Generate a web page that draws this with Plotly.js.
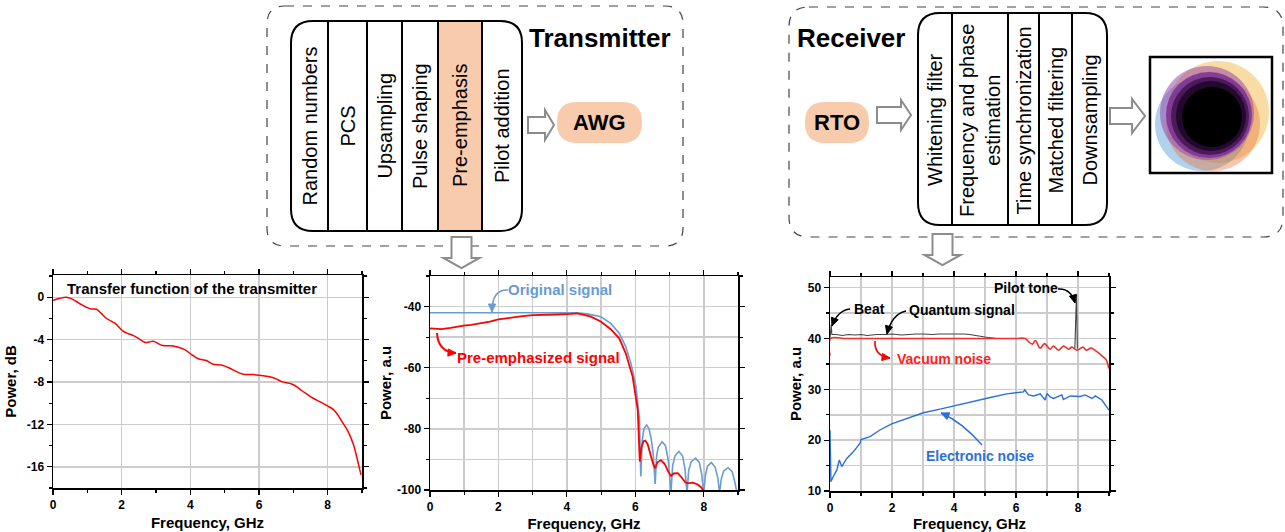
<!DOCTYPE html>
<html><head><meta charset="utf-8">
<script src="https://cdn.plot.ly/plotly-3.0.1.min.js"></script>
<style>html,body{margin:0;padding:0;background:#fff}#chart{width:1285px;height:532px}</style>
</head><body><div id="chart"></div>
<script>
// ---------- DATA ----------
// Panel 1: transfer function of the transmitter
const txFreq = [0,0.2,0.39,0.55,0.68,0.83,0.97,1.1,1.26,1.4,1.55,1.8,2.04,2.2,2.33,2.5,2.67,2.8,2.92,3.05,3.2,3.5,3.84,4.03,4.23,4.47,4.66,4.9,5.15,5.3,5.54,5.83,6.12,6.37,6.5,6.66,6.95,7.1,7.24,7.4,7.58,7.8,8.02,8.15,8.26,8.45,8.6,8.75,8.9,8.97];
const txPower = [-0.31,-0.1,0.0,-0.15,-0.4,-0.7,-0.94,-1.1,-1.13,-1.5,-1.98,-2.45,-3.2,-3.45,-3.6,-3.9,-4.25,-4.22,-4.15,-4.35,-4.56,-4.6,-4.94,-5.4,-5.8,-5.97,-6.32,-6.4,-6.7,-6.95,-7.26,-7.3,-7.4,-7.55,-7.7,-7.96,-8.18,-8.45,-8.8,-9.15,-9.53,-9.9,-10.3,-10.55,-10.94,-11.9,-12.7,-13.9,-15.8,-16.76];

// Panel 2: original and pre-emphasized signal spectra
const origFreq = [0,0.5,1,1.5,2,2.5,3,3.5,4,4.3,4.6,4.99,5.28,5.53,5.72,5.87,6.02,6.12,6.16,6.2,6.25,6.33,6.4,6.46,6.52,6.58,6.62,6.67,6.78,6.88,6.96,7.04,7.09,7.16,7.27,7.38,7.45,7.51,7.56,7.63,7.76,7.87,7.94,8.0,8.05,8.11,8.22,8.33,8.41,8.46,8.51,8.58,8.71,8.83,8.91,8.97];
const origPower = [-42,-42,-42,-42,-41.9,-42,-42,-41.9,-42,-42,-42.4,-43.3,-45.5,-48.7,-53.1,-58.5,-66.2,-77,-95.6,-84,-80,-78.7,-80,-83,-88,-98,-89,-86,-84.2,-85.5,-90,-101,-92,-88.8,-87.4,-88.8,-93,-101,-93.5,-90.8,-89.6,-91,-95,-101,-95,-92.2,-91,-92.5,-96,-101,-96.5,-93.8,-92.7,-94,-97.5,-101];
const preFreq = [0,0.15,0.34,0.6,0.98,1.2,1.47,1.75,2.0,2.3,2.64,3.0,3.33,3.7,4.11,4.3,4.5,4.7,4.99,5.28,5.53,5.72,5.92,6.07,6.13,6.18,6.24,6.29,6.36,6.45,6.52,6.58,6.64,6.75,6.86,6.96,7.04,7.12,7.24,7.36,7.46,7.53,7.68,7.82,7.92,8.02];
const prePower = [-47.1,-47.3,-47.4,-47,-46.2,-46,-45.5,-44.9,-44.2,-43.7,-43.2,-42.8,-42.6,-42.6,-42.4,-42.2,-42.7,-43.3,-44.9,-47.4,-50.4,-55.3,-62.9,-73.8,-90.7,-86,-84,-83.8,-85,-89,-91.5,-92.9,-91,-90.2,-91.5,-94,-95.4,-94.6,-94.5,-96,-97.5,-97.8,-97.6,-98.2,-99.1,-100.6];

// Panel 3: receiver spectra
const quantFreq = [0,0.02,0.04,0.06,0.2,0.4,0.6,0.8,1.0,1.2,1.5,1.8,2.0,2.3,2.5,2.8,3.0,3.3,3.5,3.8,4.0,4.3,4.5,4.84,5.0,5.38,5.6,6.2,null,7.9,7.93,7.95,7.98];
const quantPower = [40.0,42.7,42.7,40.8,40.8,40.6,40.8,40.7,40.8,40.6,40.8,40.8,40.9,40.7,40.8,40.9,40.9,40.8,40.9,40.9,41.0,40.9,40.8,40.4,40.3,40.0,40.0,40.0,null,38.1,48.6,48.6,38.0];
const vacFreq = [0,0.02,0.5,1,2,3,4,5,6,6.3,6.4,6.53,6.62,6.78,6.92,7.1,7.21,7.37,7.53,7.7,7.8,7.97,8.16,8.27,8.42,8.61,8.77,8.91,8.99];
const vacPower = [36.6,40.0,40.0,40.0,40.0,40.0,40.0,40.0,40.0,40.0,39.4,38.9,39.6,38.1,39.0,37.9,38.5,37.7,38.5,37.9,38.3,37.7,38.3,37.7,38.1,37.4,36.6,35.8,34.1];
const elecFreq = [0,0.03,0.1,0.22,0.3,0.38,0.54,0.75,0.97,1.0,1.29,1.61,1.99,2.48,3.01,3.55,4.09,4.63,5.17,5.7,6.24,6.28,6.4,6.57,6.78,6.94,7.0,7.1,7.21,7.48,7.53,7.75,8.07,8.23,8.45,8.56,8.77,9.0];
const elecPower = [22,11.8,12.8,14.1,16.1,14.8,16.4,17.7,19.4,20.1,20.7,22,23.2,24.3,25.4,26.1,26.9,27.7,28.4,29.1,29.5,29.9,28.9,28.7,29.1,27.9,29.2,28.5,28.2,28.9,28.0,28.7,28.6,28.9,28.2,28.7,27.9,25.9];

// Tick labels
const p1yVals = [-16,-12,-8,-4,0];
const p1yText = ['-16','-12','-8','-4','0'];
const p2yVals = [-100,-80,-60,-40];
const p2yText = ['-100','-80','-60','-40'];
const xTickVals = [0,2,4,6,8];
const xTickText = ['0','2','4','6','8'];

// Block-diagram text
const txBlocks = ['Random numbers','PCS','Upsampling','Pulse shaping','Pre-emphasis','Pilot addition'];
const rxBlocks = ['Whitening filter','Frequency and phase<br>estimation','Time synchronization','Matched filtering','Downsampling'];

// ---------- HELPERS ----------
const W = 1285, H = 532;
const X = v => v / W, Y = v => 1 - v / H;
const P = (x, y) => X(x).toFixed(5) + ',' + Y(y).toFixed(5);
function rr(x0, y0, x1, y1, r) {
  return 'M' + P(x0 + r, y0) + ' L' + P(x1 - r, y0) + ' Q' + P(x1, y0) + ' ' + P(x1, y0 + r) +
    ' L' + P(x1, y1 - r) + ' Q' + P(x1, y1) + ' ' + P(x1 - r, y1) + ' L' + P(x0 + r, y1) +
    ' Q' + P(x0, y1) + ' ' + P(x0, y1 - r) + ' L' + P(x0, y0 + r) + ' Q' + P(x0, y0) + ' ' + P(x0 + r, y0) + ' Z';
}
function poly(pts) { return 'M' + pts.map(p => P(p[0], p[1])).join(' L') + ' Z'; }
function pshape(path, line, fill, extra) {
  return Object.assign({type: 'path', xref: 'paper', yref: 'paper', path: path, line: line, fillcolor: fill || 'rgba(0,0,0,0)', layer: 'above'}, extra || {});
}
function circ(cx, cy, r, fill, op) {
  return {type: 'circle', xref: 'paper', yref: 'paper', x0: X(cx - r), x1: X(cx + r), y0: Y(cy + r), y1: Y(cy - r),
    fillcolor: fill, opacity: op, line: {width: 0}, layer: 'above'};
}
function rightArrow(x0, xm, xt, yc, h1, h2) {
  return poly([[x0, yc - h1], [xm, yc - h1], [xm, yc - h2], [xt, yc], [xm, yc + h2], [xm, yc + h1], [x0, yc + h1]]);
}
function downArrow(xc, w1, w2, y0, ym, yt) {
  return poly([[xc - w1, y0], [xc + w1, y0], [xc + w1, ym], [xc + w2, ym], [xc, yt], [xc - w2, ym], [xc - w1, ym]]);
}
function curveArrow(x0, y0, cx, cy, x1, y1, color, w) {
  const path = 'M' + P(x0, y0) + ' Q' + P(cx, cy) + ' ' + P(x1, y1);
  const dx = x1 - cx, dy = y1 - cy, L = Math.hypot(dx, dy);
  const ux = dx / L, uy = dy / L, hl = 8, hw = 3.6;
  const bx = x1 - ux * hl, by = y1 - uy * hl;
  const head = poly([[x1, y1], [bx - uy * hw, by + ux * hw], [bx + uy * hw, by - ux * hw]]);
  return [pshape(path, {color: color, width: w || 1.5}), pshape(head, {color: color, width: 1}, color)];
}

const FONT = 'Arial, "Liberation Sans", sans-serif';
const GRID = '#cccccc';

function xAxis(domain, anchor, minorGrid) {
  return {domain: domain, anchor: anchor, range: [0, 9], tickmode: 'array', tickvals: xTickVals, ticktext: xTickText,
    showgrid: true, gridcolor: GRID, gridwidth: 1.5, zeroline: false,
    showline: true, linecolor: '#000', linewidth: 1.5, mirror: 'ticks', ticks: 'outside', ticklen: 5, tickwidth: 1.2, tickcolor: '#000',
    minor: {dtick: 1, ticks: 'outside', ticklen: 3, tickcolor: '#000', showgrid: minorGrid, gridcolor: GRID, gridwidth: 1.5},
    tickfont: {family: FONT, size: 12, weight: 'bold', color: '#000'},
    title: {text: 'Frequency, GHz', font: {family: FONT, size: 15, weight: 'bold', color: '#000'}, standoff: 6}};
}
function yAxis(domain, anchor, range, extra, minor, titleText, standoff) {
  return Object.assign({domain: domain, anchor: anchor, range: range,
    showgrid: true, gridcolor: GRID, gridwidth: 1.5, zeroline: false,
    showline: true, linecolor: '#000', linewidth: 1.5, mirror: 'ticks', ticks: 'outside', ticklen: 5, tickwidth: 1.2, tickcolor: '#000',
    minor: minor,
    tickfont: {family: FONT, size: 12, weight: 'bold', color: '#000'},
    title: {text: titleText, font: {family: FONT, size: 15, weight: 'bold', color: '#000'}, standoff: standoff}}, extra);
}

// ---------- TRACES ----------
const traces = [
  {x: txFreq, y: txPower, xaxis: 'x', yaxis: 'y', mode: 'lines', line: {color: '#ff0000', width: 1.5, shape: 'spline'}},
  {x: origFreq, y: origPower, xaxis: 'x2', yaxis: 'y2', mode: 'lines', line: {color: '#6a9bd1', width: 1.6}},
  {x: preFreq, y: prePower, xaxis: 'x2', yaxis: 'y2', mode: 'lines', line: {color: '#ff0000', width: 1.8}},
  {x: quantFreq, y: quantPower, xaxis: 'x3', yaxis: 'y3', mode: 'lines', connectgaps: false, line: {color: '#444444', width: 1.1}},
  {x: vacFreq, y: vacPower, xaxis: 'x3', yaxis: 'y3', mode: 'lines', line: {color: '#f03030', width: 1.6, shape: 'spline'}},
  {x: elecFreq, y: elecPower, xaxis: 'x3', yaxis: 'y3', mode: 'lines', line: {color: '#2b70d8', width: 1.4}}
];

// ---------- SHAPES (block diagram) ----------
const shapes = [];
const GRAYA = {color: '#8c8c8c', width: 2};
// outer dashed boxes
shapes.push(pshape(rr(267, 6, 683, 246, 18), {color: '#444', width: 1.2, dash: 'dash'}));
shapes.push(pshape(rr(789, 7, 1283, 237, 20), {color: '#444', width: 1.2, dash: 'dash'}));
// Tx block
shapes.push(pshape(poly([[438, 21], [482, 21], [482, 231], [438, 231]]), {width: 0}, '#f8cbad'));
shapes.push(pshape(rr(291, 21, 522, 231, 22), {color: '#000', width: 2}));
[328, 367, 402, 438, 482].forEach(x => shapes.push(pshape('M' + P(x, 21) + ' L' + P(x, 231), {color: '#000', width: 2})));
// Rx block
shapes.push(pshape(rr(918, 13, 1107, 225, 22), {color: '#000', width: 2}));
[952, 1008, 1039, 1072].forEach(x => shapes.push(pshape('M' + P(x, 13) + ' L' + P(x, 225), {color: '#000', width: 2})));
// pills
shapes.push(pshape(rr(557, 102, 642, 143, 20), {width: 0}, '#f8cbad'));
shapes.push(pshape(rr(805, 102, 869, 143, 20), {width: 0}, '#f8cbad'));
// hollow arrows
shapes.push(pshape(rightArrow(528, 545, 554, 125, 8, 15), GRAYA, '#ffffff'));
shapes.push(pshape(rightArrow(877, 901, 911, 115, 8, 15), GRAYA, '#ffffff'));
shapes.push(pshape(rightArrow(1110, 1132, 1145, 116, 8, 17), GRAYA, '#ffffff'));
shapes.push(pshape(downArrow(461.5, 10, 18, 237, 258, 268), GRAYA, '#ffffff'));
shapes.push(pshape(downArrow(942.5, 10, 18, 234, 255, 265), GRAYA, '#ffffff'));
// constellation picture
shapes.push(pshape(poly([[1150, 57], [1272, 57], [1272, 173], [1150, 173]]), {color: '#000', width: 2.5}, '#ffffff'));
shapes.push(circ(1218, 112, 51, '#f2b134', 0.45));
shapes.push(circ(1202, 124, 47, '#3a8fd0', 0.4));
shapes.push(circ(1213, 124, 47, '#e8703a', 0.4));
shapes.push(circ(1207, 113, 47, '#9a4aa8', 0.55));
shapes.push(circ(1209, 115, 43, '#7a3090', 0.85));
shapes.push(circ(1210, 116, 39, '#4a1a5a', 1));
shapes.push(circ(1211, 116, 35, '#25082e', 1));
shapes.push(circ(1212, 117, 30, '#000000', 1));
// curved callout arrows
const BLUE1 = '#6a9bd1', BLUE2 = '#2b70d8';
shapes.push(...curveArrow(508, 290, 492, 289, 492, 312, BLUE1, 1.5));
shapes.push(...curveArrow(437, 333, 438, 352, 456, 353, '#ff0000', 2));
shapes.push(...curveArrow(850, 309, 838, 310, 832, 326, '#000', 1.4));
shapes.push(...curveArrow(906, 311, 892, 314, 887, 334, '#000', 1.4));
shapes.push(...curveArrow(1058, 289, 1071, 288, 1075, 303, '#000', 1.4));
shapes.push(...curveArrow(875, 341, 874, 356, 890, 358, '#ff0000', 1.6));
shapes.push(...curveArrow(982, 445, 962, 422, 941, 413, BLUE2, 1.4));

// ---------- ANNOTATIONS ----------
const ann = [];
function txt(x, y, text, size, color, weight, extra) {
  ann.push(Object.assign({xref: 'paper', yref: 'paper', x: X(x), y: Y(y), xanchor: 'center', yanchor: 'middle', showarrow: false,
    text: text, font: {family: FONT, size: size, color: color, weight: weight}}, extra || {}));
}
const txCenters = [309.5, 347.5, 384.5, 420, 460, 502];
txBlocks.forEach((t, i) => txt(txCenters[i], 126, t, 20, '#000', 'normal', {textangle: -90}));
const rxCenters = [935, 980, 1023.5, 1055.5, 1089.5];
rxBlocks.forEach((t, i) => txt(rxCenters[i], 120, t, 20, '#000', 'normal', {textangle: -90}));
txt(600, 38, 'Transmitter', 26, '#000', 'bold');
txt(851, 38, 'Receiver', 26, '#000', 'bold');
txt(599.5, 122.5, 'AWG', 22, '#000', 'bold');
txt(837, 122.5, 'RTO', 22, '#000', 'bold');
// plot annotations
txt(192, 288, 'Transfer function of the transmitter', 15, '#000', 'bold');
txt(560, 289, 'Original signal', 15, BLUE1, 'bold');
txt(538, 357, 'Pre-emphasized signal', 15, '#ff0000', 'bold');
txt(869, 309, 'Beat', 14, '#000', 'bold');
txt(962, 310, 'Quantum signal', 14, '#000', 'bold');
txt(1026, 288, 'Pilot tone', 14, '#000', 'bold');
txt(944, 359, 'Vacuum noise', 14, '#ff2020', 'bold');
txt(980, 456, 'Electronic noise', 14, BLUE2, 'bold');

// ---------- LAYOUT ----------
const layout = {
  width: W, height: H, margin: {l: 0, r: 0, t: 0, b: 0}, showlegend: false,
  paper_bgcolor: '#ffffff', plot_bgcolor: '#ffffff', font: {family: FONT, color: '#000'},
  xaxis: xAxis([X(53), X(362)], 'y', false),
  yaxis: yAxis([Y(488), Y(275)], 'x', [-18, 2.1], {tickmode: 'array', tickvals: p1yVals, ticktext: p1yText},
    {dtick: 2, ticks: 'outside', ticklen: 3, tickcolor: '#000', showgrid: false}, 'Power, dB', 6),
  xaxis2: xAxis([X(430), X(738)], 'y2', true),
  yaxis2: yAxis([Y(490), Y(276)], 'x2', [-100, -30], {tickmode: 'array', tickvals: p2yVals, ticktext: p2yText},
    {dtick: 10, ticks: 'outside', ticklen: 3, tickcolor: '#000', showgrid: true, gridcolor: GRID, gridwidth: 1.5}, 'Power, a.u', 2),
  xaxis3: xAxis([X(830), X(1109)], 'y3', true),
  yaxis3: yAxis([Y(491), Y(277)], 'x3', [10, 52.1], {dtick: 10, tick0: 0},
    {dtick: 5, ticks: 'outside', ticklen: 3, tickcolor: '#000', showgrid: true, gridcolor: GRID, gridwidth: 1.5}, 'Power, a.u', 2),
  shapes: shapes, annotations: ann
};
Plotly.newPlot('chart', traces, layout, {staticPlot: true, displayModeBar: false});
</script></body></html>
